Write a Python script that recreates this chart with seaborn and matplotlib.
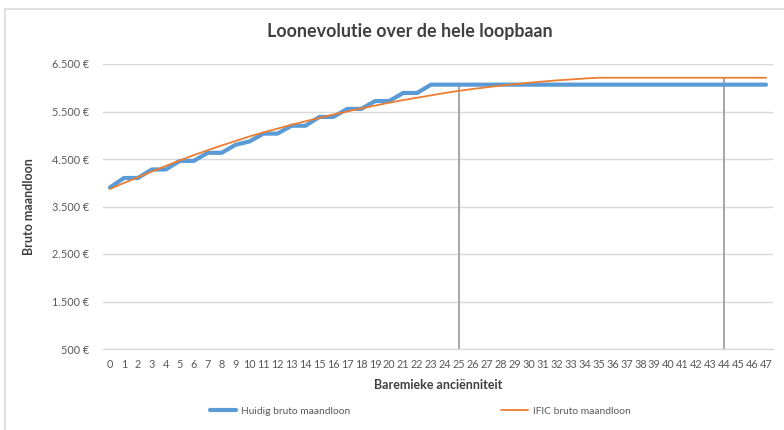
import matplotlib
matplotlib.use("Agg")
import matplotlib.pyplot as plt
import seaborn as sns
import pandas as pd
from matplotlib.patches import Rectangle
from matplotlib.lines import Line2D
from matplotlib.ticker import FuncFormatter

years = list(range(48))
huidig = [3900, 4100, 4100, 4280, 4280, 4460, 4460, 4630, 4630, 4800, 4870,
          5035, 5035, 5200, 5200, 5385, 5385, 5555, 5555, 5720, 5720, 5890,
          5890, 6065] + [6065] * 24
ific = [3870, 3995, 4115, 4235, 4355, 4470, 4580, 4685, 4785, 4880, 4975,
        5060, 5140, 5220, 5295, 5365, 5435, 5500, 5565, 5625, 5685, 5740,
        5790, 5840, 5890, 5935, 5975, 6010, 6045, 6075, 6105, 6130, 6155,
        6175, 6195, 6210] + [6210] * 12
series_names = ["Huidig bruto maandloon", "IFIC bruto maandloon"]
marker_years = [25, 44]
marker_tops = [6065, 6210]
y_ticks = [500, 1500, 2500, 3500, 4500, 5500, 6500]

df = pd.DataFrame({
    "jaar": years * 2,
    "loon": huidig + ific,
    "reeks": [series_names[0]] * len(years) + [series_names[1]] * len(years),
})

sns.set_theme(style="white")
plt.rcParams["font.family"] = ["Lato", "DejaVu Sans"]

fig = plt.figure(figsize=(7.84, 4.30), dpi=100)
ax = fig.add_axes([103 / 784, 1 - 349 / 430, 670 / 784, 285 / 430])

txt = "#595959"
for x, top in zip(marker_years, marker_tops):
    ax.vlines(x, 500, top, color="#a6a6a6", lw=1.4, zorder=1)

sns.lineplot(data=df, x="jaar", y="loon", hue="reeks", ax=ax,
             palette={series_names[0]: "#5B9BD5", series_names[1]: "#ED7D31"},
             size="reeks", sizes={series_names[0]: 3.0, series_names[1]: 1.3},
             legend=False, zorder=3)

ax.set_xlim(-0.5, 47.5)
ax.set_ylim(500, 6500)
ax.set_xticks(years)
ax.set_xticklabels([str(y) for y in years], fontsize=7.8, color=txt)
ax.set_yticks(y_ticks)
ax.yaxis.set_major_formatter(FuncFormatter(lambda v, p: f"{int(v):,}".replace(",", ".") + " €"))
ax.tick_params(axis="y", labelsize=7.8, labelcolor=txt, length=0, pad=10)
ax.tick_params(axis="x", length=0, pad=7)
ax.grid(axis="y", color="#d9d9d9", lw=1)
for s in ["top", "right", "left"]:
    ax.spines[s].set_visible(False)
ax.spines["bottom"].set_color("#d9d9d9")
ax.spines["bottom"].set_linewidth(1)

ax.set_xlabel("Baremieke anciënniteit", fontsize=9, fontweight="bold", color="#404040", labelpad=7)
ax.set_ylabel("Bruto maandloon", fontsize=9, fontweight="bold", color="#404040", labelpad=12)

fig.text(410 / 784, 1 - 31 / 430, "Loonevolutie over de hele loopbaan",
         ha="center", va="center", fontsize=12.9, fontweight="bold", color="#404040")

handles = [Line2D([], [], color="#5B9BD5", lw=3.0), Line2D([], [], color="#ED7D31", lw=1.3)]
leg = fig.legend(handles, series_names, loc="center", bbox_to_anchor=(420 / 784, 1 - 411 / 430),
                 ncol=2, frameon=False, fontsize=7.4, handlelength=2.6, handletextpad=0.5,
                 columnspacing=14.6)
for t in leg.get_texts():
    t.set_color(txt)

fig.patches.append(Rectangle((5 / 784, -0.1), 1.2, 1 - 9 / 430 + 0.1, transform=fig.transFigure,
                             fill=False, edgecolor="#d9d9d9", lw=1.2))

fig.savefig("out.png", dpi=100)
